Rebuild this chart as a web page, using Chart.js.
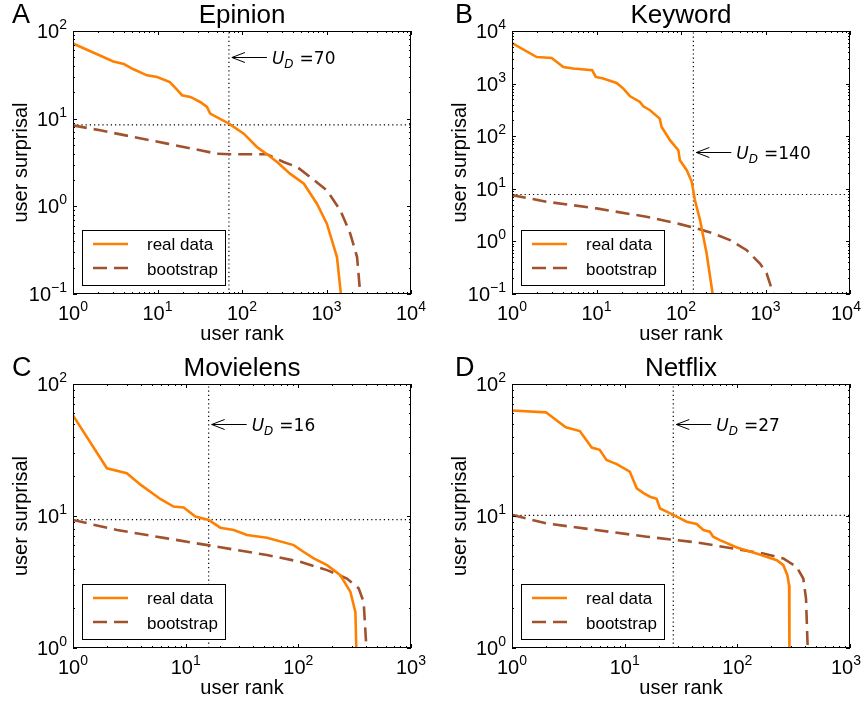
<!DOCTYPE html>
<html>
<head>
<meta charset="utf-8">
<script src="https://cdn.jsdelivr.net/npm/chart.js@4.4.1/dist/chart.umd.min.js"></script>
<style>
  body { margin: 0; background: #fff; overflow: hidden; }
  #wrap { position: relative; width: 864px; height: 705px; }
  canvas { position: absolute; }
</style>
</head>
<body>
<div id="wrap">
  <canvas id="panelA" width="432" height="352" style="left:0;top:0"></canvas>
  <canvas id="panelB" width="432" height="352" style="left:432px;top:0"></canvas>
  <canvas id="panelC" width="432" height="353" style="left:0;top:352px"></canvas>
  <canvas id="panelD" width="432" height="353" style="left:432px;top:352px"></canvas>
</div>
<script>
// values (user rank vs user surprisal, log-log)
const aRealRank = [1, 3, 4, 5.2, 7.5, 9.9, 14, 17, 19.5, 24.5, 32, 38.5, 42, 70, 105, 150, 198, 260, 370, 540, 770, 1010, 1330, 1480, 1520];
const aRealSurprisal = [72, 45, 42, 36.6, 31.2, 29.9, 26.2, 21.4, 18.5, 17.7, 15.5, 13.6, 11.4, 8.77, 6.74, 4.75, 3.92, 3.2, 2.36, 1.81, 1.07, 0.634, 0.264, 0.1, 0.07];
const aBootRank = [1, 2.1, 5.2, 13, 32, 50, 79, 198, 310, 450, 640, 1010, 1460, 1910, 2300, 2510, 2560];
const aBootSurprisal = [8.4, 7.36, 6.18, 5.19, 4.36, 3.99, 3.92, 3.92, 3.2, 2.81, 2.16, 1.52, 0.9, 0.488, 0.264, 0.1, 0.07];

const bRealRank = [1, 1.96, 2.95, 4.05, 5.3, 8.9, 9.8, 12, 17.3, 20.8, 25, 32.7, 35.8, 43, 56, 59, 74, 93, 97, 117, 134, 146, 168, 201, 237, 245];
const bRealSurprisal = [5900, 3200, 3070, 2070, 1930, 1790, 1340, 1245, 1030, 804, 574, 448, 371, 312, 216, 150, 84, 54, 35, 22.6, 13.6, 6.1, 2.54, 0.59, 0.1, 0.07];
const bBootRank = [1, 2.6, 10, 39, 97, 153, 241, 380, 600, 860, 1030, 1240, 1270];
const bBootSurprisal = [7.6, 5.66, 4.24, 2.94, 2.13, 1.77, 1.42, 1.06, 0.68, 0.38, 0.247, 0.1, 0.08];

const cRealRank = [1, 2, 3, 4, 6, 7.8, 9.6, 12.2, 16, 20.3, 26.7, 35, 52.7, 91, 111, 137, 180, 236, 290, 321, 327, 328];
const cRealSurprisal = [57.8, 23, 21.1, 17.2, 13.4, 11.8, 11.6, 9.9, 9.33, 8.16, 7.83, 7.18, 6.85, 6.02, 5.36, 4.77, 4.24, 3.56, 2.66, 1.87, 1.0, 0.9];
const cBootRank = [1, 2.46, 6.8, 19, 52.7, 104, 180, 270, 343, 380, 402, 403];
const cBootSurprisal = [9.33, 7.83, 6.77, 5.85, 5.06, 4.5, 3.89, 3.36, 2.83, 2.23, 1.0, 0.9];

const dRealRank = [1, 2, 3, 4, 5.1, 6, 6.9, 8.5, 11.1, 12.8, 14.7, 16.8, 19.2, 20.6, 23.6, 27, 35.5, 43.5, 50, 57, 61, 70, 99, 148, 224, 256, 278, 288, 290, 290];
const dRealSurprisal = [63, 61, 47, 44, 33, 31.7, 26.6, 24.7, 21.7, 16.2, 14.9, 14, 13.5, 11.4, 10.8, 10.2, 9.06, 8.7, 7.83, 7.6, 6.97, 6.57, 5.78, 5.2, 4.63, 4.24, 3.56, 2.99, 1.0, 0.9];
const dBootRank = [1, 2, 5.6, 15.7, 43.5, 99, 170, 256, 336, 385, 407, 421, 422];
const dBootSurprisal = [10.2, 8.8, 7.83, 6.97, 6.31, 5.61, 5.2, 4.77, 4.12, 3.36, 2.37, 1.0, 0.9];

// per panel settings
const panelLetters = ['A', 'B', 'C', 'D'];
const panelTitles = ['Epinion', 'Keyword', 'Movielens', 'Netflix'];
const udValues = [70, 140, 16, 27];
const cutLevels = [8.5, 7.8, 9.4, 10.1];
const xMaxExp = [4, 4, 3, 3];
const yMinExp = [-1, -1, 0, 0];
const yMaxExp = [2, 4, 2, 2];
const legendLabels = ['real data', 'bootstrap'];

const ORANGE = '#ff8000';
const BROWN = '#a0522d';
const DASH = [14, 7];
const SANS = '"Liberation Sans", Arial, sans-serif';
const MATH = '"DejaVu Sans", sans-serif';

function toPoints(xs, ys) {
    return xs.map(function (x, i) { return {x: x, y: ys[i]}; });
}

// "10" with a raised exponent; kept inside the canvas on the right
function drawPow(ctx, exp, x, y, align) {
    ctx.font = '20px ' + SANS;
    var wb = ctx.measureText('10').width;
    var es = exp < 0 ? '\u2212' + (-exp) : String(exp);
    ctx.font = '14px ' + SANS;
    var we = ctx.measureText(es).width;
    var x0 = align === 'center' ? x - (wb + we) / 2 : x - wb - we;
    var maxRight = ctx.canvas.width - 3;
    if (x0 + wb + we > maxRight) x0 = maxRight - wb - we;
    ctx.textAlign = 'left';
    ctx.textBaseline = 'alphabetic';
    ctx.font = '20px ' + SANS;
    ctx.fillText('10', x0, y);
    ctx.font = '14px ' + SANS;
    ctx.fillText(es, x0 + wb, y - 9);
}

// frame, inward ticks, labels, annotation and legend in matplotlib style
const decorPlugin = {
    id: 'decor',
    afterDraw: function (chart) {
        var p = chart.options.plugins.decor;
        var ctx = chart.ctx;
        var a = chart.chartArea;
        var xs = chart.scales.x, ys = chart.scales.y;
        ctx.save();
        ctx.strokeStyle = '#000';
        ctx.fillStyle = '#000';
        ctx.lineWidth = 1;

        // ticks on all four sides
        ctx.beginPath();
        for (var e = 0; e < p.xMax; e++) {
            for (var m = 1; m <= 10; m++) {
                var v = m * Math.pow(10, e);
                var px = Math.round(xs.getPixelForValue(v)) + 0.5;
                var len = (m === 1 || m === 10) ? 4 : 2;
                ctx.moveTo(px, a.bottom); ctx.lineTo(px, a.bottom - len);
                ctx.moveTo(px, a.top); ctx.lineTo(px, a.top + len);
            }
        }
        for (var e2 = p.yMin; e2 < p.yMax; e2++) {
            for (var m2 = 1; m2 <= 10; m2++) {
                var v2 = m2 * Math.pow(10, e2);
                var py = Math.round(ys.getPixelForValue(v2)) + 0.5;
                var len2 = (m2 === 1 || m2 === 10) ? 4 : 2;
                ctx.moveTo(a.left, py); ctx.lineTo(a.left + len2, py);
                ctx.moveTo(a.right, py); ctx.lineTo(a.right - len2, py);
            }
        }
        ctx.stroke();
        ctx.strokeRect(a.left + 0.5, a.top + 0.5, a.right - a.left - 1, a.bottom - a.top - 1);

        // tick labels
        for (var k = 0; k <= p.xMax; k++) {
            drawPow(ctx, k, xs.getPixelForValue(Math.pow(10, k)), a.bottom + 26, 'center');
        }
        for (var j = p.yMin; j <= p.yMax; j++) {
            drawPow(ctx, j, a.left - 6, ys.getPixelForValue(Math.pow(10, j)) + 7, 'right');
        }

        // axis titles
        ctx.font = '20px ' + SANS;
        ctx.textAlign = 'center';
        ctx.fillText('user rank', (a.left + a.right) / 2, a.bottom + 46);
        ctx.save();
        ctx.translate(a.left - 46, (a.top + a.bottom) / 2);
        ctx.rotate(-Math.PI / 2);
        ctx.fillText('user surprisal', 0, 0);
        ctx.restore();

        // panel title and letter
        ctx.font = '26px ' + SANS;
        ctx.fillText(p.title, (a.left + a.right) / 2, a.top - 8);
        ctx.textAlign = 'left';
        ctx.font = '27px ' + SANS;
        ctx.fillText(p.letter, p.letterX, a.top - 8);

        // arrow pointing at the U_D line
        var tx = xs.getPixelForValue(p.ud) + 3;
        var ty = Math.round(ys.getPixelForValue(50)) + 0.5;
        ctx.beginPath();
        ctx.moveTo(tx + 35, ty); ctx.lineTo(tx, ty);
        ctx.moveTo(tx + 13, ty - 5); ctx.lineTo(tx, ty); ctx.lineTo(tx + 13, ty + 5);
        ctx.stroke();
        var sx = tx + 40;
        ctx.font = 'italic 17px ' + MATH;
        ctx.fillText('U', sx, ty + 6);
        sx += ctx.measureText('U').width;
        ctx.font = 'italic 12px ' + MATH;
        ctx.fillText('D', sx, ty + 10);
        sx += ctx.measureText('D').width + 6;
        ctx.font = '17px ' + MATH;
        ctx.fillText('=' + p.ud, sx, ty + 6);

        // legend box
        var lx = a.left + 9, ly = a.bottom - 64;
        ctx.fillStyle = '#fff';
        ctx.fillRect(lx, ly, 143, 55);
        ctx.strokeStyle = '#000';
        ctx.strokeRect(lx + 0.5, ly + 0.5, 143, 55);
        ctx.lineWidth = 2.5;
        ctx.strokeStyle = ORANGE;
        ctx.beginPath();
        ctx.moveTo(lx + 11, ly + 14); ctx.lineTo(lx + 46, ly + 14);
        ctx.stroke();
        ctx.strokeStyle = BROWN;
        ctx.setLineDash(DASH);
        ctx.beginPath();
        ctx.moveTo(lx + 11, ly + 38); ctx.lineTo(lx + 46, ly + 38);
        ctx.stroke();
        ctx.setLineDash([]);
        ctx.fillStyle = '#000';
        ctx.font = '17px ' + SANS;
        ctx.fillText(legendLabels[0], lx + 65, ly + 20);
        ctx.fillText(legendLabels[1], lx + 65, ly + 45);
        ctx.restore();
    }
};

function makePanel(id, idx, realX, realY, bootX, bootY, pad, letterX) {
    var xMax = Math.pow(10, xMaxExp[idx]);
    var yMin = Math.pow(10, yMinExp[idx]);
    var yMax = Math.pow(10, yMaxExp[idx]);
    var ud = udValues[idx];
    var cut = cutLevels[idx];
    new Chart(document.getElementById(id).getContext('2d'), {
        type: 'line',
        data: {
            datasets: [{
                label: legendLabels[0],
                data: toPoints(realX, realY),
                borderColor: ORANGE,
                borderWidth: 2.6,
                pointRadius: 0,
                tension: 0,
                clip: 0
            }, {
                label: legendLabels[1],
                data: toPoints(bootX, bootY),
                borderColor: BROWN,
                borderWidth: 2.6,
                borderDash: DASH,
                pointRadius: 0,
                tension: 0,
                clip: 0
            }, {
                label: 'U_D',
                data: [{x: ud, y: yMin}, {x: ud, y: yMax}],
                borderColor: '#000',
                borderWidth: 1.2,
                borderDash: [1.2, 3],
                pointRadius: 0,
                clip: 0
            }, {
                label: 'cut',
                data: [{x: 1, y: cut}, {x: xMax, y: cut}],
                borderColor: '#000',
                borderWidth: 1.2,
                borderDash: [1.2, 3],
                pointRadius: 0,
                clip: 0
            }]
        },
        options: {
            responsive: false,
            animation: false,
            devicePixelRatio: 1,
            layout: { padding: pad },
            scales: {
                x: { type: 'logarithmic', min: 1, max: xMax, display: false },
                y: { type: 'logarithmic', min: yMin, max: yMax, display: false }
            },
            plugins: {
                legend: { display: false },
                tooltip: { enabled: false },
                decor: {
                    title: panelTitles[idx],
                    letter: panelLetters[idx],
                    letterX: letterX,
                    ud: ud,
                    xMax: xMaxExp[idx],
                    yMin: yMinExp[idx],
                    yMax: yMaxExp[idx]
                }
            }
        },
        plugins: [decorPlugin]
    });
}

document.addEventListener('DOMContentLoaded', function () {
    makePanel('panelA', 0, aRealRank, aRealSurprisal, aBootRank, aBootSurprisal,
        {left: 73, right: 21, top: 31, bottom: 58}, 12);
    makePanel('panelB', 1, bRealRank, bRealSurprisal, bBootRank, bBootSurprisal,
        {left: 80, right: 14, top: 31, bottom: 58}, 23);
    makePanel('panelC', 2, cRealRank, cRealSurprisal, cBootRank, cBootSurprisal,
        {left: 73, right: 21, top: 32, bottom: 57}, 12);
    makePanel('panelD', 3, dRealRank, dRealSurprisal, dBootRank, dBootSurprisal,
        {left: 80, right: 14, top: 32, bottom: 57}, 23);
});
</script>
</body>
</html>
